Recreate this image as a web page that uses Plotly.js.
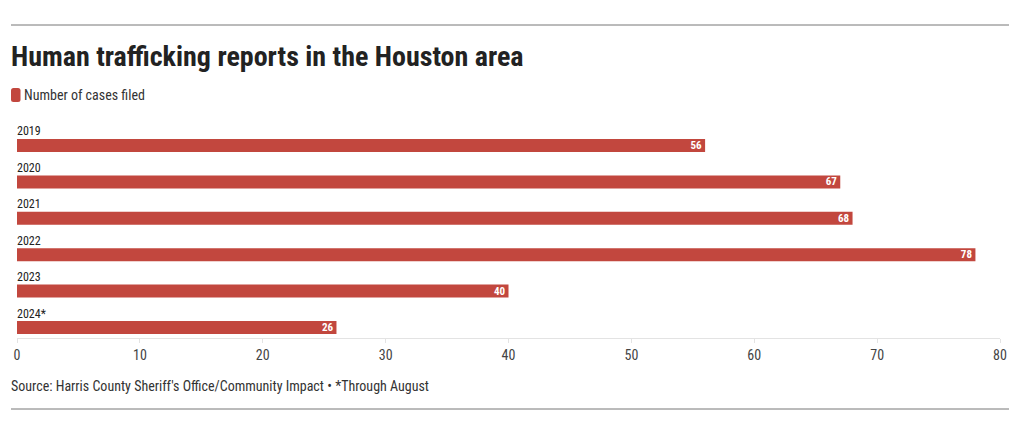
<!DOCTYPE html>
<html>
<head>
<meta charset="utf-8">
<script src="https://cdn.plot.ly/plotly-3.0.1.min.js"></script>
<style>
  html, body { margin: 0; padding: 0; background: #fff; }
  #chart { width: 1020px; height: 435px; }
</style>
</head>
<body>
<div id="chart"></div>
<script>
const years = ["2019", "2020", "2021", "2022", "2023", "2024*"];
const cases = [56, 67, 68, 78, 40, 26];
const seriesName = "Number of cases filed";
const xTicks = [0, 10, 20, 30, 40, 50, 60, 70, 80];
const titleText = "Human trafficking reports in the Houston area";
const sourceText = "Source: Harris County Sheriff's Office/Community Impact \u2022 *Through August";

const FONT = "Roboto Condensed, Liberation Sans Narrow, Arial Narrow, Roboto, sans-serif";
const RED = "#c2473e";

const W = 1020, H = 435;
const mL = 17, mR = 20, mT = 120, mB = 97;

const trace = {
  type: "bar",
  orientation: "h",
  y: years,
  x: cases,
  name: seriesName,
  marker: { color: RED },
  width: 0.357,
  text: cases.map(String),
  textposition: "inside",
  insidetextanchor: "end",
  textangle: 0,
  constraintext: "none",
  textfont: { family: FONT, size: 11, color: "#ffffff", weight: 700 },
  hoverinfo: "x+y",
  cliponaxis: false,
  showlegend: false
};

const annotations = years.map((y, i) => ({
  xref: "x", yref: "y", x: 0, y: i,
  text: y, showarrow: false,
  xanchor: "left", yanchor: "middle",
  yshift: 14, xshift: -2,
  font: { family: FONT, size: 12, color: "#222" }
}));

annotations.push({
  xref: "paper", yref: "paper",
  x: (22 - mL) / (W - mL - mR),
  y: 1 + (mT - 95) / (H - mT - mB),
  text: seriesName, showarrow: false,
  xanchor: "left", yanchor: "middle",
  font: { family: FONT, size: 14, color: "#333" }
});
annotations.push({
  xref: "paper", yref: "paper",
  x: (9 - mL) / (W - mL - mR),
  y: -(386 - (H - mB)) / (H - mT - mB),
  text: sourceText, showarrow: false,
  xanchor: "left", yanchor: "middle",
  font: { family: FONT, size: 14, color: "#333" }
});

const pw = W - mL - mR, ph = H - mT - mB;
const px = v => (v - mL) / pw;
const py = v => 1 - (v - mT) / ph;

// rounded legend swatch
function roundRect(x0, y0, x1, y1, r) {
  const X0 = px(x0), X1 = px(x1), Y0 = py(y0), Y1 = py(y1);
  const rx = r / pw, ry = r / ph;
  return `M${X0 + rx},${Y0} L${X1 - rx},${Y0} Q${X1},${Y0} ${X1},${Y0 - ry} L${X1},${Y1 + ry} Q${X1},${Y1} ${X1 - rx},${Y1} L${X0 + rx},${Y1} Q${X0},${Y1} ${X0},${Y1 + ry} L${X0},${Y0 - ry} Q${X0},${Y0} ${X0 + rx},${Y0} Z`;
}

const shapes = [
  { type: "line", xref: "paper", yref: "paper", x0: px(11), x1: px(1009), y0: py(25), y1: py(25),
    line: { color: "#777", width: 1 } },
  { type: "line", xref: "paper", yref: "paper", x0: px(11), x1: px(1009), y0: py(409), y1: py(409),
    line: { color: "#777", width: 1 } },
  { type: "path", xref: "paper", yref: "paper", path: roundRect(11, 88, 20.5, 102, 2.5),
    fillcolor: RED, line: { width: 0 } }
];

const layout = {
  width: W, height: H,
  margin: { l: mL, r: mR, t: mT, b: mB, pad: 0 },
  paper_bgcolor: "#fff",
  plot_bgcolor: "#fff",
  font: { family: FONT, color: "#333" },
  title: {
    text: "<b>" + titleText + "</b>",
    xref: "container", yref: "container",
    x: 11 / W, xanchor: "left",
    y: 1 - 56 / H, yanchor: "middle",
    font: { family: FONT, size: 28, color: "#222" }
  },
  xaxis: {
    range: [0, 80],
    tickvals: xTicks,
    ticktext: xTicks.map(String),
    showgrid: false,
    zeroline: false,
    showline: true,
    linecolor: "#e3e3e3",
    linewidth: 1,
    ticks: "outside",
    ticklen: 4,
    tickcolor: "#e3e3e3",
    tickfont: { family: FONT, size: 14, color: "#444" },
    fixedrange: true
  },
  yaxis: {
    type: "category",
    categoryorder: "array",
    categoryarray: years,
    range: [5.288, -0.70],
    showticklabels: false,
    showgrid: false,
    zeroline: false,
    showline: false,
    ticks: "",
    fixedrange: true
  },
  bargap: 0.64,
  showlegend: false,
  annotations: annotations,
  shapes: shapes
};

Plotly.newPlot("chart", [trace], layout, { displayModeBar: false, staticPlot: true });
</script>
</body>
</html>
